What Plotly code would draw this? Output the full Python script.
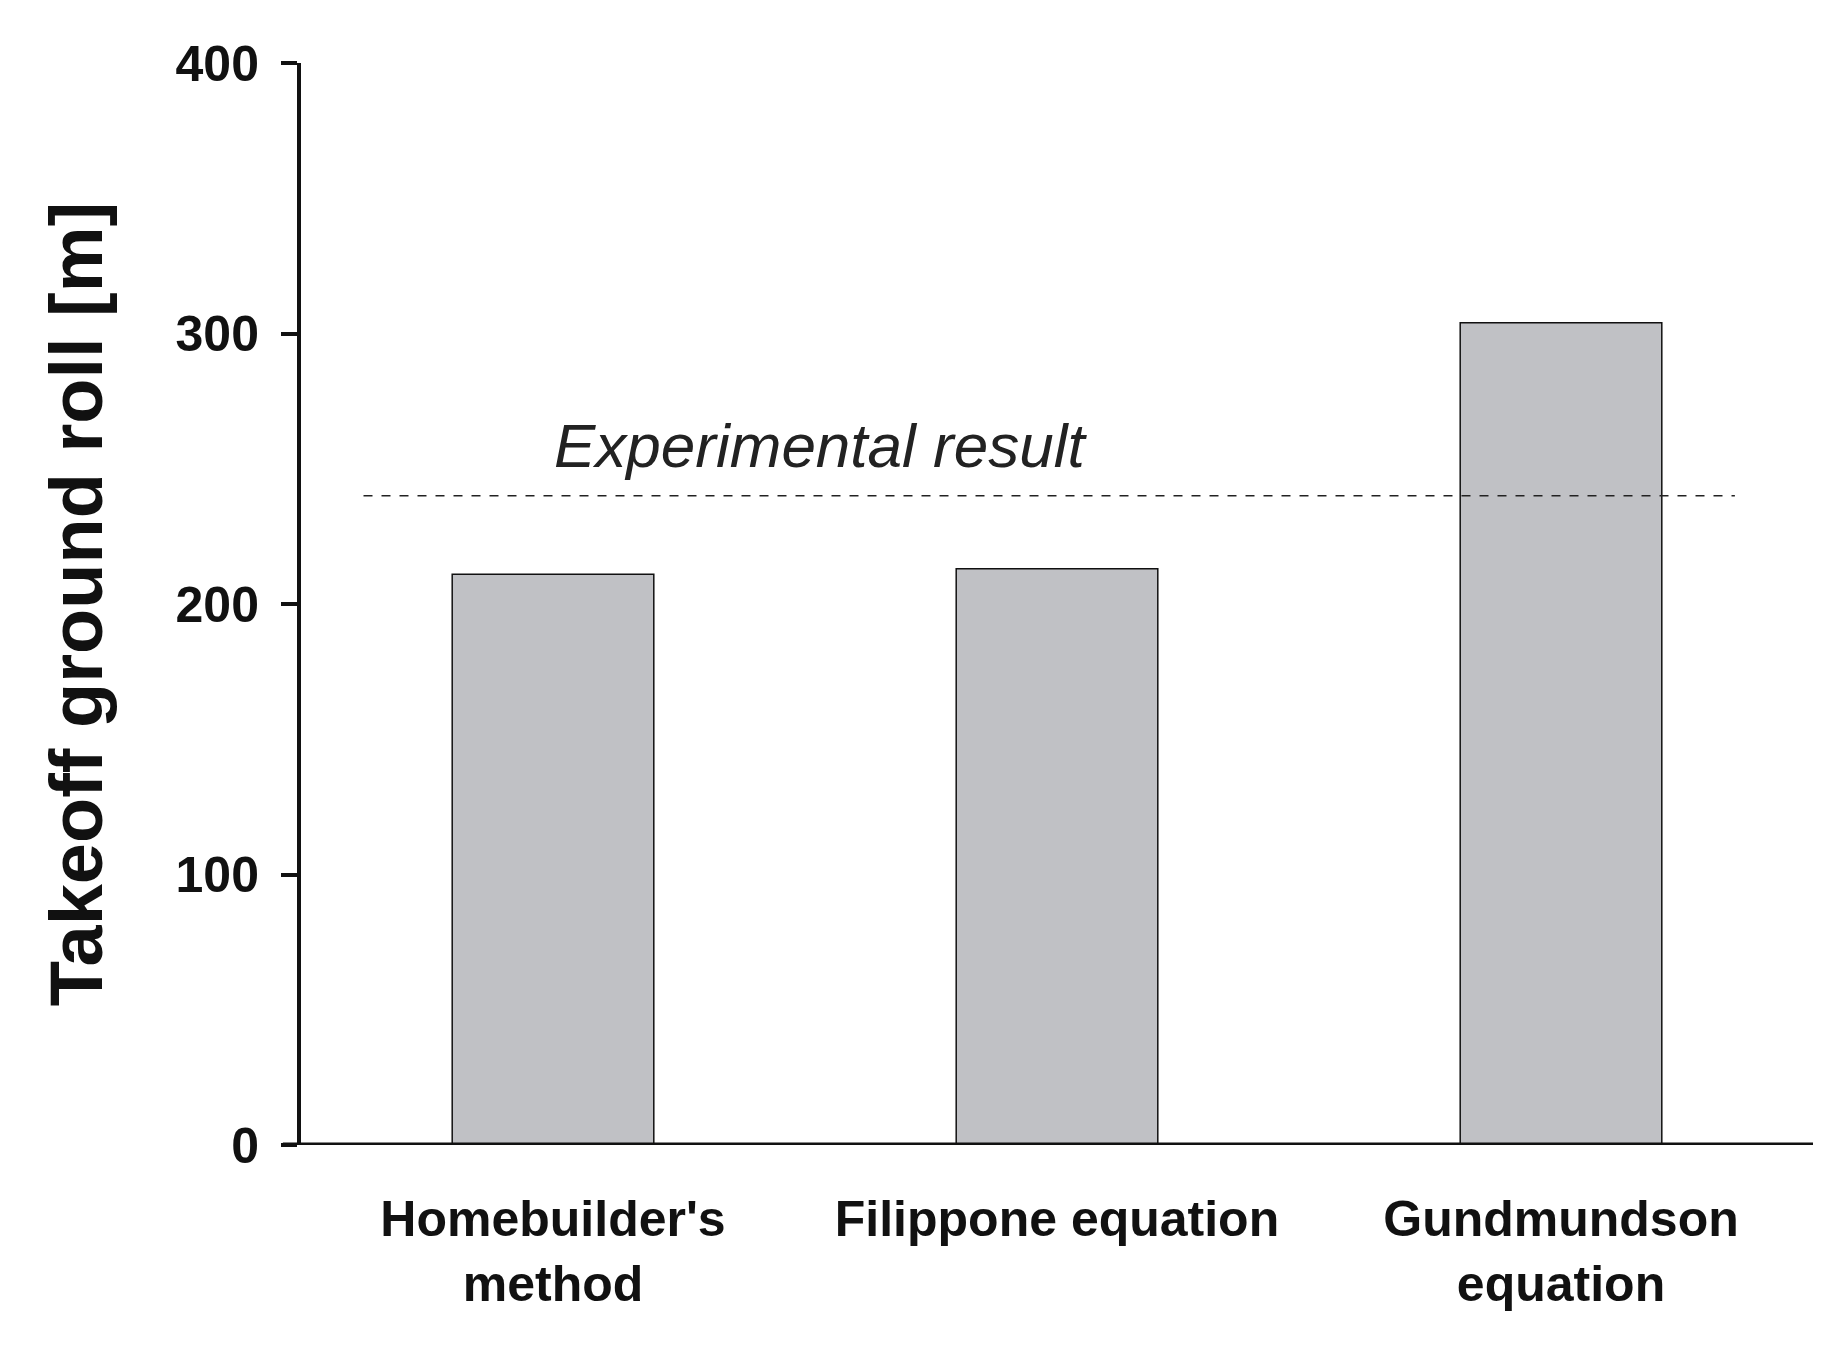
import plotly.graph_objects as go

categories = ["Homebuilder's<br>method", "Filippone equation", "Gundmundson<br>equation"]
values = [211, 213, 304]
experimental = 240
yticks = [0, 100, 200, 300, 400]

fig = go.Figure()
fig.add_trace(go.Bar(x=[0, 1, 2], y=values, width=0.40,
                     marker=dict(color="#c0c1c5", line=dict(color="#111", width=1.5))))
fig.add_trace(go.Scatter(x=[-0.376, 2.345], y=[experimental, experimental], mode="lines",
                         line=dict(color="#222", width=1.5, dash="dash"), hoverinfo="skip"))
fig.add_annotation(x=0.53, y=experimental + 5, text="<i>Experimental result</i>", showarrow=False,
                   yanchor="bottom", font=dict(family="Liberation Sans", size=62, color="#222"))

fig.update_layout(
    width=1843, height=1353, plot_bgcolor="white", paper_bgcolor="white", showlegend=False,
    margin=dict(l=293, r=38, t=55, b=216),
    font=dict(family="Liberation Sans", color="#111"),
)
fig.update_xaxes(range=[-0.5, 2.5], tickvals=[0, 1, 2], ticktext=[f"<b>{c}</b>" for c in categories],
                 tickfont=dict(size=50, family="Liberation Sans"), showline=False, ticks="",
                 showgrid=False, zeroline=False, ticklabelstandoff=40)
fig.update_yaxes(range=[0, 400], tickvals=yticks, ticktext=[f"<b>{t}</b>" for t in yticks],
                 tickfont=dict(size=50), showline=True, linecolor="#111", linewidth=4,
                 ticks="outside", ticklen=16, tickwidth=4, tickcolor="#111", showgrid=False,
                 zeroline=False, ticklabelstandoff=12,
                 title=dict(text="<b>Takeoff ground roll [m]</b>", font=dict(size=74), standoff=50))
fig.add_shape(type="line", xref="paper", yref="y", x0=-0.012, x1=1, y0=0, y1=0,
              line=dict(color="#111", width=5))
fig.write_html("out.html")
